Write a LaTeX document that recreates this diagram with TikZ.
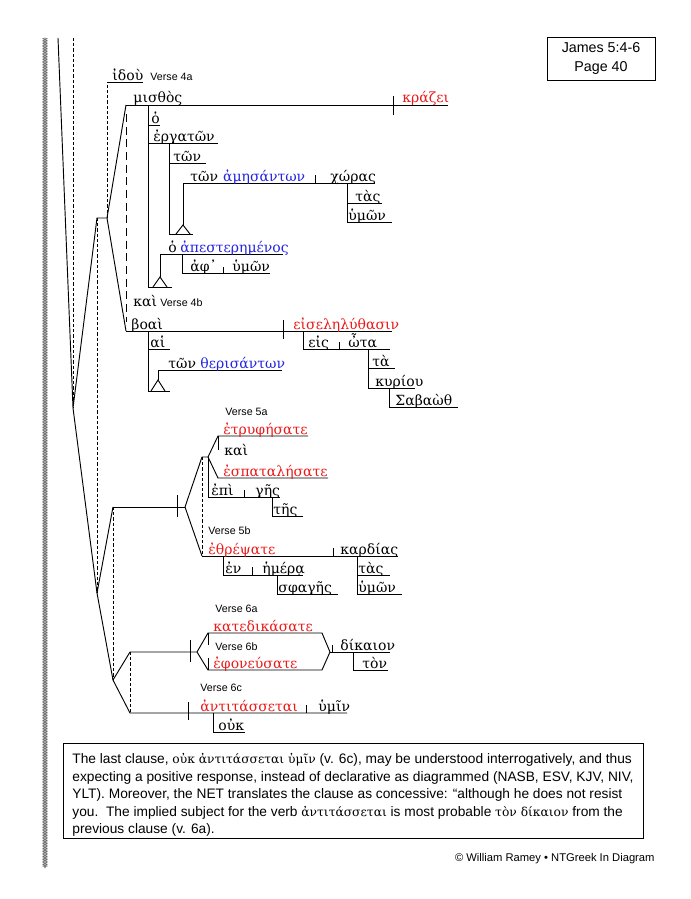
\documentclass[tikz,border=0pt]{standalone}
\usepackage{fontspec}
\setmainfont{Liberation Sans}
\newfontfamily\gk{DejaVu Serif}
\usetikzlibrary{decorations.pathmorphing,positioning}
\definecolor{vred}{RGB}{235,25,25}
\definecolor{vblue}{RGB}{35,35,225}
\newcommand{\ngk}[1]{{\gk\fontsize{9.2}{13}\selectfont #1}}
\tikzset{
  wd/.style={font=\gk\fontsize{10.5}{12}\selectfont, inner sep=0pt, anchor=base west},
  vb/.style={wd, text=vred},
  pt/.style={wd, text=vblue},
  vs/.style={font=\fontsize{8}{9}\selectfont, inner sep=0pt, anchor=base west},
  dsh/.style={dash pattern=on 2.4pt off 1.5pt},
  ldsh/.style={dash pattern=on 6pt off 3.5pt},
  chain/.style={gray!80!black, line width=0.4pt, decorate, decoration={zigzag, amplitude=1.6pt, segment length=2.4pt}}
}
\begin{document}
\begin{tikzpicture}[x=0.75pt, y=-0.75pt, line width=0.7pt]
\useasboundingbox (0,0) rectangle (690,899);
% left border
\draw[chain] (45,38) -- (45,868);
\draw[chain, decoration={mirror}] (45,38) -- (45,868);
% main frame
\coordinate (top) at (58,38);
\coordinate (j1) at (73,408);
\coordinate (v4) at (97,218);
\coordinate (v4b) at (107,218);
\coordinate (j56) at (97,593);
\coordinate (v5) at (113,507);
\coordinate (v6) at (113,680);
\draw[dsh] (73,38) -- (j1);
\draw[dsh] (v4) -- (j56);
\draw (top) -- (j1) -- (v4) -- (v4b);
\draw (j1) -- (j56);
\draw (v5) -- (j56) -- (v6);
\draw[dsh] (v5) -- (v6);

% Verse 4a
\draw[dsh] (v4b) -- (107,82);
\draw (107,82) -- (143,82);
\node[wd] (idou) at (112,80) {ἰδοὺ};
\node[vs] (l4a) at (150,80) {Verse 4a};
\draw (126,105) -- (v4b) -- (126,331);
\draw[ldsh] (126,114) -- (126,322);
\draw (126,105) -- (448,105);
\draw (393,96) -- (393,115);
\node[wd] (mist) at (133,103) {μισθὸς};
\node[vb] (kraz) at (402,103) {κράζει};
\draw (148,105) -- (148,287);
\draw (148,125) -- (160,125);
\node[wd] (ho1) at (151,123) {ὁ};
\draw (148,143) -- (218,143);
\node[wd] (erg) at (153,141) {ἐργατῶν};
\draw (169,143) -- (169,234) -- (193,234);
\draw (169,163) -- (206,163);
\node[wd] (ton1) at (173,161) {τῶν};
\draw (176,234) -- (183,225) -- (190,234);
\draw (183,225) -- (183,183) -- (375,183);
\draw (315,175) -- (315,183);
\node[wd] (ton2) at (190,181) {τῶν};
\node[pt, right=3pt of ton2.base east, anchor=base west] (amhs) {ἀμησάντων};
\node[wd] (xwr) at (330,181) {χώρας};
\draw (347,183) -- (347,222);
\draw (347,203) -- (382,203);
\draw (347,222) -- (392,222);
\node[wd] (tas1) at (355,201) {τὰς};
\node[wd] (hum1) at (348,220) {ὑμῶν};
\draw (153,287) -- (160,277) -- (167,287);
\draw (148,287) -- (172,287);
\draw (160,277) -- (160,254) -- (283,254);
\node[wd] (ho2) at (168,252) {ὁ};
\node[pt] (apes) at (180,252) {ἀπεστερημένος};
\draw (182,254) -- (182,273) -- (270,273);
\draw (223,267) -- (223,273);
\node[wd] (aph) at (190,271) {ἀφ᾽};
\node[wd] (hum2) at (232,271) {ὑμῶν};

% Verse 4b
\node[wd] (kai1) at (133,306) {καὶ};
\node[vs] (l4b) at (160,306) {Verse 4b};
\draw (126,331) -- (392,331);
\draw (283,320) -- (283,339);
\node[wd] (boai) at (131,329) {βοαὶ};
\node[vb] (eise) at (293,329) {εἰσεληλύθασιν};
\draw (148,331) -- (148,391) -- (170,391);
\draw (148,349) -- (170,349);
\node[wd] (hai) at (150,347) {αἱ};
\draw (151,391) -- (158,380) -- (165,391);
\draw (158,380) -- (158,370) -- (282,370);
\node[wd] (ton3) at (168,368) {τῶν};
\node[pt] (ther) at (200,368) {θερισάντων};
\draw (303,331) -- (303,349) -- (390,349);
\draw (339,342) -- (339,349);
\node[wd] (eis) at (308,347) {εἰς};
\node[wd] (wta) at (348,347) {ὦτα};
\draw (368,349) -- (368,388) -- (415,388);
\draw (368,368) -- (395,368);
\node[wd] (ta) at (372,366) {τὰ};
\node[wd] (kyr) at (375,386) {κυρίου};
\draw (389,388) -- (389,407) -- (458,407);
\node[wd] (sab) at (395,405) {Σαβαὼθ};

% Verse 5
\draw (v5) -- (185,507);
\draw (177,495) -- (177,517);
\draw (185,507) -- (202,457) -- (208,457);
\draw (185,507) -- (202,556);
\draw[dsh] (202,457) -- (202,556);
\node[vs] (l5a) at (225,415) {Verse 5a};
\draw (208,457) -- (218,436) -- (308,436);
\draw (218,436) -- (218,450);
\node[vb] (etru) at (223,434) {ἐτρυφήσατε};
\node[wd] (kai2) at (224,455) {καὶ};
\draw (208,457) -- (218,478) -- (328,478);
\node[vb] (espa) at (223,476) {ἐσπαταλήσατε};
\draw (208,457) -- (208,497) -- (280,497);
\draw (244,490) -- (244,497);
\node[wd] (epi) at (211,495) {ἐπὶ};
\node[wd] (ghs) at (255,495) {γῆς};
\draw (272,497) -- (272,516) -- (303,516);
\node[wd] (ths) at (273,514) {τῆς};
\node[vs] (l5b) at (208,534) {Verse 5b};
\draw (202,556) -- (398,556);
\draw (333,548) -- (333,556);
\node[vb] (ethr) at (208,554) {ἐθρέψατε};
\node[wd] (kard) at (340,554) {καρδίας};
\draw (223,556) -- (223,575) -- (303,575);
\draw (252,567) -- (252,575);
\node[wd] (en) at (225,573) {ἐν};
\node[wd] (hmer) at (262,573) {ἡμέρᾳ};
\draw (277,575) -- (277,594) -- (338,594);
\node[wd] (sfag) at (278,592) {σφαγῆς};
\draw (357,556) -- (357,594) -- (402,594);
\draw (357,575) -- (390,575);
\node[wd] (tas2) at (358,573) {τὰς};
\node[wd] (hum3) at (358,592) {ὑμῶν};

% Verse 6
\draw (v6) -- (130,652) -- (197,652);
\draw (v6) -- (130,713) -- (347,713);
\draw[dsh] (130,652) -- (130,713);
\draw (190,640) -- (190,662);
\draw (197,652) -- (208,633) -- (322,633) -- (330,652);
\draw (197,652) -- (208,670) -- (322,670) -- (330,652);
\draw (208,633) -- (208,645);
\draw (208,670) -- (208,658);
\draw (330,652) -- (390,652);
\draw (332,645) -- (332,652);
\node[vs] (l6a) at (215,612) {Verse 6a};
\node[vb] (kate) at (213,631) {κατεδικάσατε};
\node[vs] (l6b) at (215,650) {Verse 6b};
\node[vb] (efon) at (213,668) {ἐφονεύσατε};
\node[wd] (dik) at (340,650) {δίκαιον};
\draw (353,652) -- (353,670) -- (388,670);
\node[wd] (ton4) at (362,668) {τὸν};
\node[vs] (l6c) at (200,691) {Verse 6c};
\draw (188,702) -- (188,720);
\draw (306,705) -- (306,713);
\node[vb] (anti) at (200,711) {ἀντιτάσσεται};
\node[wd] (hmin) at (318,711) {ὑμῖν};
\draw (213,713) -- (213,732) -- (245,732);
\node[wd] (ouk) at (218,730) {οὐκ};

% page box and note
\draw (547,37) rectangle (655,80);
\node[align=center, inner sep=0pt, font=\fontsize{10.7}{13.5}\selectfont] (page) at (601,58.5) {James 5:4-6\\Page 40};
\draw (63,743) rectangle (643,838);
\node[anchor=north west, align=left, inner sep=0pt, font=\fontsize{10.3}{13.1}\selectfont] (note) at (72,753)
  {The last clause, \ngk{οὐκ ἀντιτάσσεται ὑμῖν} (v. 6c), may be understood interrogatively, and thus\\
   expecting a positive response, instead of declarative as diagrammed (NASB, ESV, KJV, NIV,\\
   YLT). Moreover, the NET translates the clause as concessive: “although he does not resist\\
   you.\ \ The implied subject for the verb \ngk{ἀντιτάσσεται} is most probable \ngk{τὸν δίκαιον} from the\\
   previous clause (v. 6a).};
\node[anchor=base east, inner sep=0pt, font=\fontsize{8.4}{9}\selectfont] (copy) at (655,861) {© William Ramey • NTGreek In Diagram};
\end{tikzpicture}
\end{document}
